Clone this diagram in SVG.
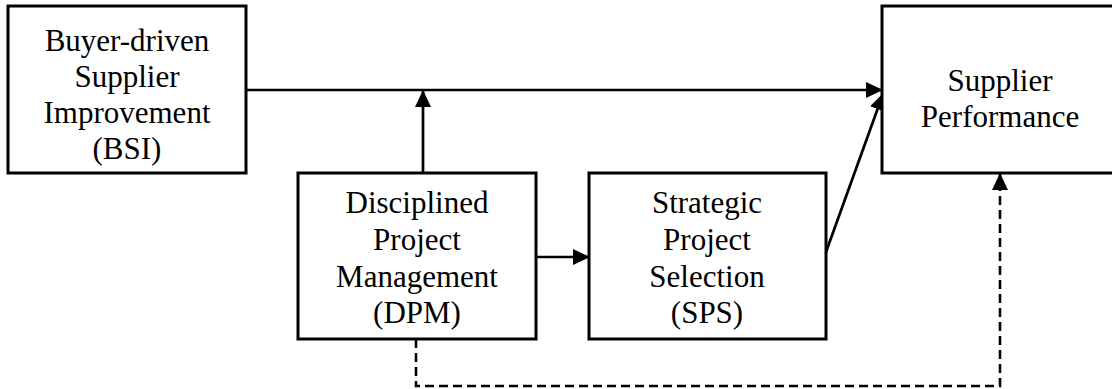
<svg xmlns="http://www.w3.org/2000/svg" width="1112" height="389" viewBox="0 0 1112 389">
  <style>
    .box { fill: #fff; stroke: #000; stroke-width: 3; }
    .lbl { font-family: "Liberation Serif", "Times New Roman", serif; font-size: 31px; fill: #000; text-anchor: middle; }
    .link { fill: none; stroke: #000; stroke-width: 2.7; }
    .dash { fill: none; stroke: #000; stroke-width: 2.6; stroke-dasharray: 9 5; }
  </style>
  <defs>
    <marker id="arrow" viewBox="0 0 17 16" refX="16" refY="8" markerWidth="17" markerHeight="16" markerUnits="userSpaceOnUse" orient="auto">
      <path d="M0,0 L17,8 L0,16 Z" fill="#000"/>
    </marker>
  </defs>
  <rect width="1112" height="389" fill="#fff"/>

  <!-- connectors -->
  <g id="connectors">
    <line class="link" x1="246" y1="90" x2="882" y2="90" marker-end="url(#arrow)"/>
    <line class="link" x1="423" y1="173" x2="423" y2="91" marker-end="url(#arrow)"/>
    <line class="link" x1="536" y1="257" x2="589" y2="257" marker-end="url(#arrow)"/>
    <line class="link" x1="826" y1="252" x2="883" y2="94" marker-end="url(#arrow)"/>
    <polyline class="dash" points="416,339 416,386 1000,386 1000,174" marker-end="url(#arrow)"/>
  </g>

  <!-- nodes -->
  <g id="bsi">
    <rect class="box" x="8" y="6" width="238" height="167"/>
    <text class="lbl" x="127" y="51">Buyer-driven</text>
    <text class="lbl" x="127" y="87">Supplier</text>
    <text class="lbl" x="127" y="123">Improvement</text>
    <text class="lbl" x="127" y="159">(BSI)</text>
  </g>

  <g id="sp">
    <rect class="box" x="882" y="6" width="240" height="167"/>
    <text class="lbl" x="1000" y="91">Supplier</text>
    <text class="lbl" x="1000" y="127">Performance</text>
  </g>

  <g id="dpm">
    <rect class="box" x="298" y="173" width="238" height="166"/>
    <text class="lbl" x="417" y="213">Disciplined</text>
    <text class="lbl" x="417" y="250">Project</text>
    <text class="lbl" x="417" y="287">Management</text>
    <text class="lbl" x="417" y="323">(DPM)</text>
  </g>

  <g id="sps">
    <rect class="box" x="589" y="173" width="237" height="166"/>
    <text class="lbl" x="707" y="213">Strategic</text>
    <text class="lbl" x="707" y="250">Project</text>
    <text class="lbl" x="707" y="287">Selection</text>
    <text class="lbl" x="707" y="323">(SPS)</text>
  </g>
</svg>
